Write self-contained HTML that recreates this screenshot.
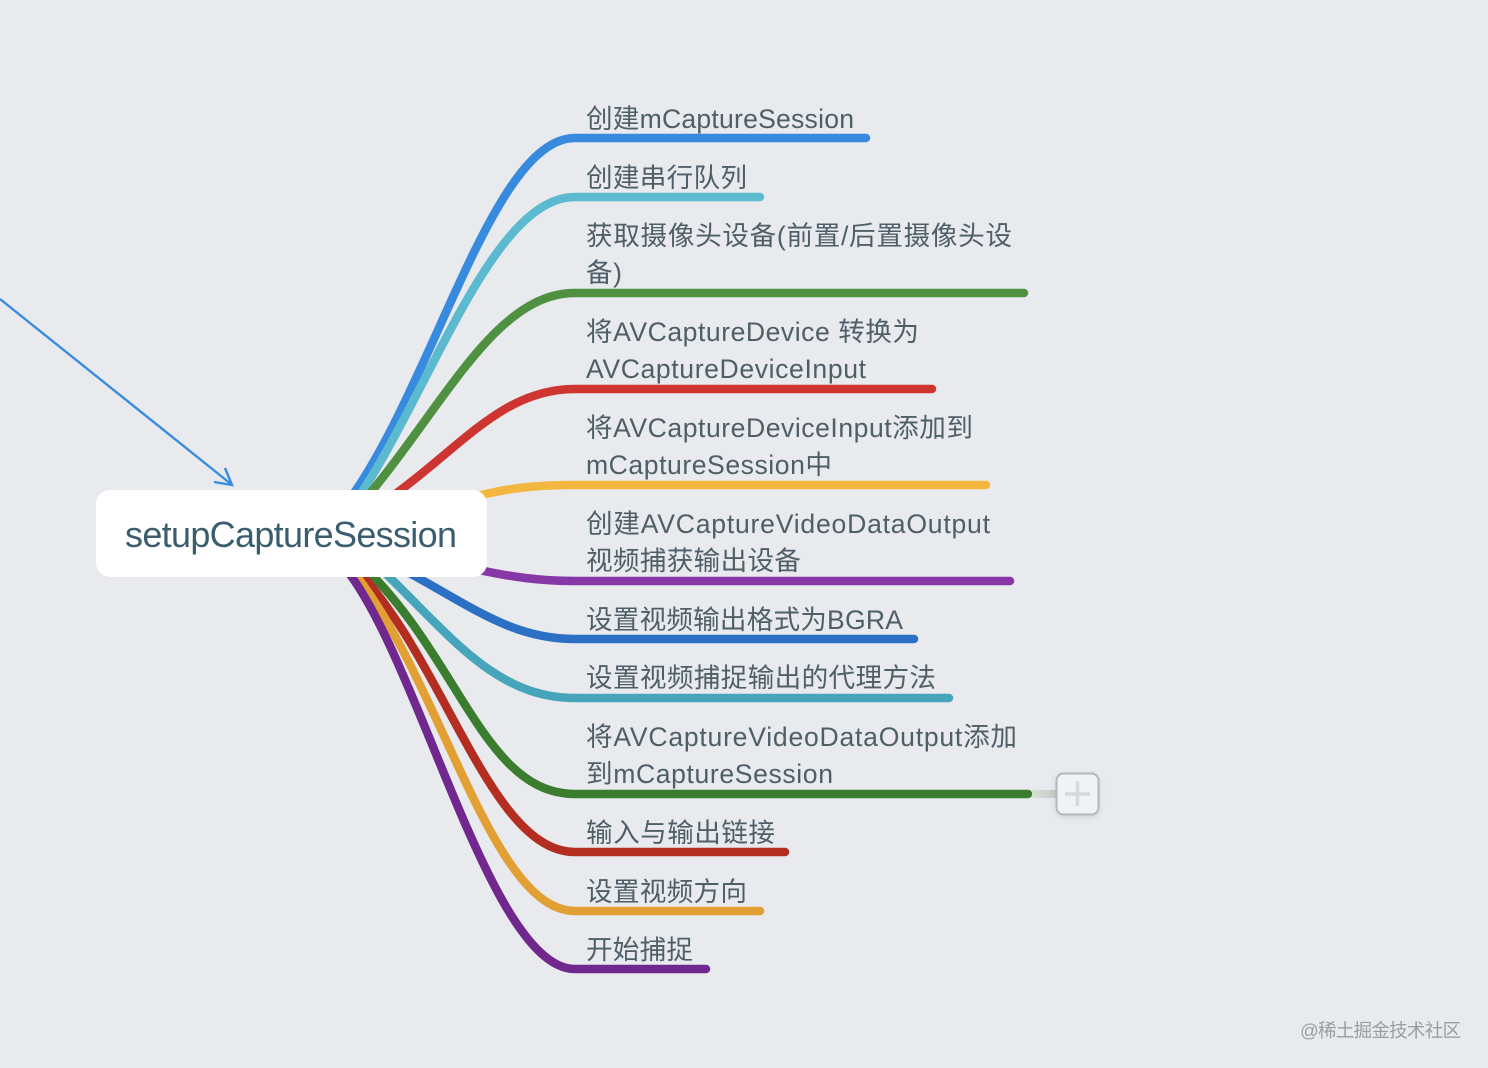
<!DOCTYPE html>
<html lang="zh"><head><meta charset="utf-8"><style>
html,body{margin:0;padding:0;width:1488px;height:1068px;overflow:hidden;background:#e8eaee}
svg{display:block}
text{font-family:"Liberation Sans","Noto Sans CJK SC",sans-serif}
.t{font-size:26.6px;fill:#4f5f68}
</style></head><body>
<svg width="1488" height="1068" viewBox="0 0 1488 1068" xmlns="http://www.w3.org/2000/svg">
<defs>
<linearGradient id="g" x1="0" x2="1" y1="0" y2="0"><stop offset="0" stop-color="#d6e0d6"/><stop offset="1" stop-color="#c4c9c6"/></linearGradient>
<filter id="s" x="-20%" y="-20%" width="140%" height="150%"><feDropShadow dx="0" dy="2" stdDeviation="3" flood-color="#000" flood-opacity=".1"/></filter>
</defs>
<g fill="none" stroke-width="8.5" stroke-linecap="round">
<path stroke="#378ade" d="M340 512C430 400 490 138 575 138H866"/>
<path stroke="#5bbad0" d="M350 510C428 400 490 197 575 197H760"/>
<path stroke="#4f9140" d="M362 503C445 405 495 293 575 293H1024"/>
<path stroke="#cf3530" d="M380 505C460 450 500 389 575 389H932"/>
<path stroke="#f3b73f" d="M470 498C510 487 540 485 575 485H986"/>
<path stroke="#8837a6" d="M470 568C510 577 540 581 575 581H1010"/>
<path stroke="#2b70c4" d="M400 568C470 605 510 639 575 639H914"/>
<path stroke="#47a5bb" d="M380 568C450 635 495 698 575 698H949"/>
<path stroke="#3a7d2e" d="M365 568C460 660 485 794 575 794H1028"/>
<path stroke="#b32d20" d="M355 568C445 660 490 852 575 852H785"/>
<path stroke="#e2a034" d="M350 568C440 675 490 911 575 911H760"/>
<path stroke="#70278e" d="M345 568C420 660 490 969 575 969H706"/>
</g>
<path d="M0 299L231 484M214 482L232 485L225 468" fill="none" stroke="#3a8ae0" stroke-width="2.4"/>
<rect x="96" y="490" width="391" height="87" rx="14" fill="#fff"/>
<text x="125" y="547" font-size="36" fill="#3a5e6e" textLength="332" lengthAdjust="spacing">setupCaptureSession</text>
<g class="t">
<text class="t" x="586" y="128" textLength="268">创建mCaptureSession</text>
<text class="t" x="586" y="187" textLength="161">创建串行队列</text>
<text class="t" x="586" y="245" textLength="426">获取摄像头设备(前置/后置摄像头设</text>
<text class="t" x="586" y="282" textLength="36">备)</text>
<text class="t" x="586" y="341" textLength="333" xml:space="preserve">将AVCaptureDevice 转换为</text>
<text class="t" x="586" y="378" textLength="280">AVCaptureDeviceInput</text>
<text class="t" x="586" y="437" textLength="387">将AVCaptureDeviceInput添加到</text>
<text class="t" x="586" y="474" textLength="246">mCaptureSession中</text>
<text class="t" x="586" y="533" textLength="404">创建AVCaptureVideoDataOutput</text>
<text class="t" x="586" y="570" textLength="215">视频捕获输出设备</text>
<text class="t" x="586" y="629" textLength="317">设置视频输出格式为BGRA</text>
<text class="t" x="586" y="687" textLength="350">设置视频捕捉输出的代理方法</text>
<text class="t" x="586" y="746" textLength="431">将AVCaptureVideoDataOutput添加</text>
<text class="t" x="586" y="783" textLength="247">到mCaptureSession</text>
<text class="t" x="586" y="842" textLength="189">输入与输出链接</text>
<text class="t" x="586" y="901" textLength="161">设置视频方向</text>
<text class="t" x="586" y="959" textLength="107">开始捕捉</text>
</g>
<rect x="1032" y="790" width="26" height="8" fill="url(#g)"/>
<rect x="1056.500" y="773.500" width="42" height="41" rx="7" fill="#f1f2f4" stroke="#b4b6b8" stroke-width="2" filter="url(#s)"/>
<path d="M1065 794H1090M1077.500 781V806" stroke="#d6d8da" stroke-width="3.500" fill="none"/>
<text x="1300" y="1037" font-size="18.500" fill="#9a9da1" textLength="161">@稀土掘金技术社区</text>
</svg>
</body></html>
